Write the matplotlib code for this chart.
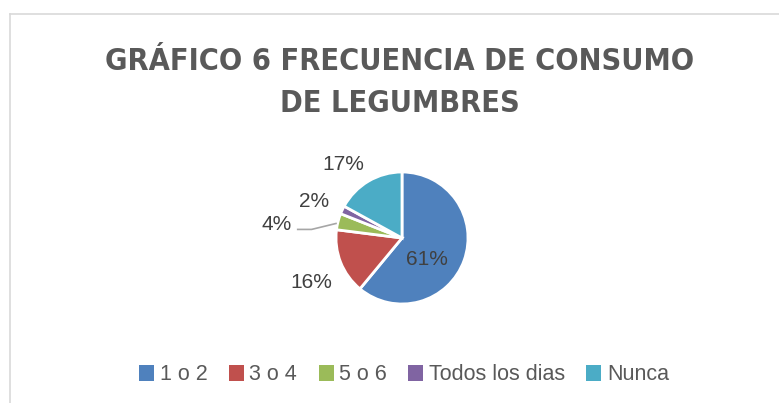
import matplotlib
matplotlib.use('Agg')
import matplotlib.pyplot as plt
from matplotlib.lines import Line2D
from matplotlib.patches import Patch

# data
categories = ['1 o 2', '3 o 4', '5 o 6', 'Todos los dias', 'Nunca']
values = [61, 16, 4, 2, 17]
labels = ['61%', '16%', '4%', '2%', '17%']
colors = ['#4F81BD', '#C0504D', '#9BBB59', '#8064A2', '#4BACC6']
title_lines = ['GRÁFICO 6 FRECUENCIA DE CONSUMO', 'DE LEGUMBRES']

txt_color = '#595959'
W, H = 779, 403

fig = plt.figure(figsize=(W / 100, H / 100), dpi=100)

# chart area border (top and left only visible)
fig.add_artist(Line2D([9.5 / W, 1], [1 - 13.5 / H] * 2, color='#D9D9D9', lw=1.2))
fig.add_artist(Line2D([9.5 / W] * 2, [0, 1 - 13.5 / H], color='#D9D9D9', lw=1.2))

# title, one text per line so the baselines can be placed
for line, base in zip(title_lines, [70, 112]):
    fig.text(400 / W, 1 - base / H, line, ha='center', va='baseline', color=txt_color,
             fontsize=22, fontweight='bold', fontstretch='condensed',
             family=['DejaVu Sans'])

# pie axes: radius 1 -> 66 px, center at (402, 238)
r = 66
cx, cy = 402, 238
half = 2.2 * r
ax = fig.add_axes([(cx - half) / W, 1 - (cy + half) / H, 2 * half / W, 2 * half / H])
ax.pie(values, colors=colors, startangle=90, counterclock=False, radius=1,
       wedgeprops=dict(edgecolor='white', linewidth=2))
ax.set_xlim(-2.2, 2.2)
ax.set_ylim(-2.2, 2.2)
ax.set_aspect('equal')
ax.axis('off')

# data label positions (in radius units)
label_pos = [(0.38, -0.32), (-1.38, -0.68), (-1.90, 0.21), (-1.33, 0.56), (-0.89, 1.12)]
for lab, (x, y) in zip(labels, label_pos):
    ax.text(x, y, lab, ha='center', va='center', color='#404040', fontsize=15,
            family=['Liberation Sans', 'DejaVu Sans'])

# leader line for the 4% label
ax.plot([-1.58, -1.37, -1.0], [0.13, 0.13, 0.22], color='#A6A6A6', lw=1.2)

# legend
handles = [Patch(facecolor=c, edgecolor='none') for c in colors]
leg = fig.legend(handles, categories, loc='center', bbox_to_anchor=(404 / W, 1 - 375 / H),
                 ncol=5, frameon=False, handlelength=0.7, handleheight=0.7,
                 handletextpad=0.25, columnspacing=1.0,
                 prop={'family': ['Liberation Sans', 'DejaVu Sans'], 'size': 15.5})
for t in leg.get_texts():
    t.set_color(txt_color)

fig.savefig('out.png', dpi=100)
